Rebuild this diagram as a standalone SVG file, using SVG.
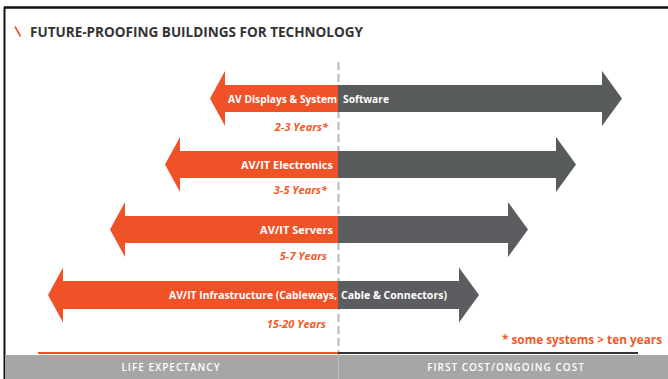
<svg xmlns="http://www.w3.org/2000/svg" width="668" height="379" viewBox="0 0 668 379">
  <style>
    text { font-family: "Open Sans", "Liberation Sans", sans-serif; font-weight: bold; }
    .title { font-size: 14px; fill: #333333; }
    .lbl { font-size: 11px; fill: #ffffff; }
    .yrs { font-size: 11px; fill: #f05a28; font-style: italic; text-anchor: end; }
    .note { font-size: 11.5px; fill: #f05a28; }
    .foot { font-size: 10px; fill: #ffffff; text-anchor: middle; letter-spacing: 1px; font-weight: 600; }
    .life { fill: #f05228; }
    .cost { fill: #575b5b; }
    .cost2 { fill: #5c5d60; }
  </style>

  <rect x="0" y="0" width="668" height="379" fill="#ffffff"/>

  <!-- frame -->
  <line x1="4.5" y1="7" x2="4.5" y2="379" stroke="#111111" stroke-width="2"/>
  <line x1="4" y1="7.5" x2="668" y2="7.5" stroke="#111111" stroke-width="2.5"/>

  <!-- heading -->
  <g id="title">
    <line x1="15" y1="26.5" x2="20.5" y2="36.5" stroke="#f05228" stroke-width="1.6"/>
    <text class="title" x="30" y="37" textLength="333" lengthAdjust="spacingAndGlyphs">FUTURE-PROOFING BUILDINGS FOR TECHNOLOGY</text>
  </g>

  <!-- centre divider -->
  <g id="connectors">
    <line x1="338.5" y1="62" x2="338.5" y2="356" stroke="#b8b8b8" stroke-width="2" stroke-dasharray="8 4"/>
  </g>

  <g id="row-software">
    <path class="life" d="M210,98.5 L225,71 L225,85 L338,85 L338,112 L225,112 L225,126 Z"/>
    <path class="cost" d="M338,85 L602,85 L602,71 L622,98.5 L602,126 L602,112 L338,112 Z"/>
    <text class="lbl" x="228" y="103" textLength="109" lengthAdjust="spacingAndGlyphs">AV Displays &amp; System</text>
    <text class="lbl" x="343" y="103" textLength="46" lengthAdjust="spacingAndGlyphs">Software</text>
    <text class="yrs" x="328" y="131">2-3 Years*</text>
  </g>

  <g id="row-electronics">
    <path class="life" d="M165,164.5 L180,137 L180,151 L338,151 L338,178 L180,178 L180,192 Z"/>
    <path class="cost" d="M338,151 L556,151 L556,137 L576,164.5 L556,192 L556,178 L338,178 Z"/>
    <text class="lbl" x="333" y="168.5" text-anchor="end">AV/IT Electronics</text>
    <text class="yrs" x="327" y="194">3-5 Years*</text>
  </g>

  <g id="row-servers">
    <path class="life" d="M110,229.5 L125,202 L125,216 L338,216 L338,243 L125,243 L125,257 Z"/>
    <path class="cost2" d="M338,216 L508,216 L508,202 L528,229.5 L508,257 L508,243 L338,243 Z"/>
    <text class="lbl" x="333" y="233.5" text-anchor="end">AV/IT Servers</text>
    <text class="yrs" x="327" y="260">5-7 Years</text>
  </g>

  <g id="row-infrastructure">
    <path class="life" d="M48,295 L63,267.5 L63,281 L338,281 L338,309 L63,309 L63,322.5 Z"/>
    <path class="cost2" d="M338,281 L459,281 L459,267.5 L479,295 L459,322.5 L459,309 L338,309 Z"/>
    <text class="lbl" x="169" y="299" textLength="168" lengthAdjust="spacingAndGlyphs">AV/IT Infrastructure (Cableways,</text>
    <text class="lbl" x="341" y="299" textLength="106" lengthAdjust="spacingAndGlyphs">Cable &amp; Connectors)</text>
    <text class="yrs" x="326" y="328">15-20 Years</text>
  </g>

  <g id="footnote">
    <text class="note" x="502" y="344" textLength="160" lengthAdjust="spacingAndGlyphs">* some systems &gt; ten years</text>
  </g>

  <!-- axis bar -->
  <g id="axis">
    <line x1="38" y1="353" x2="338" y2="353" stroke="#f05228" stroke-width="2"/>
    <line x1="338" y1="353" x2="638" y2="353" stroke="#333333" stroke-width="2"/>
    <rect x="5" y="355" width="663" height="24" fill="#a6a6a6"/>
    <line x1="338.5" y1="355" x2="338.5" y2="379" stroke="#bdbdbd" stroke-width="1"/>
    <text class="foot" x="171" y="371">LIFE EXPECTANCY</text>
    <text class="foot" x="506" y="371">FIRST COST/ONGOING COST</text>
  </g>
</svg>
